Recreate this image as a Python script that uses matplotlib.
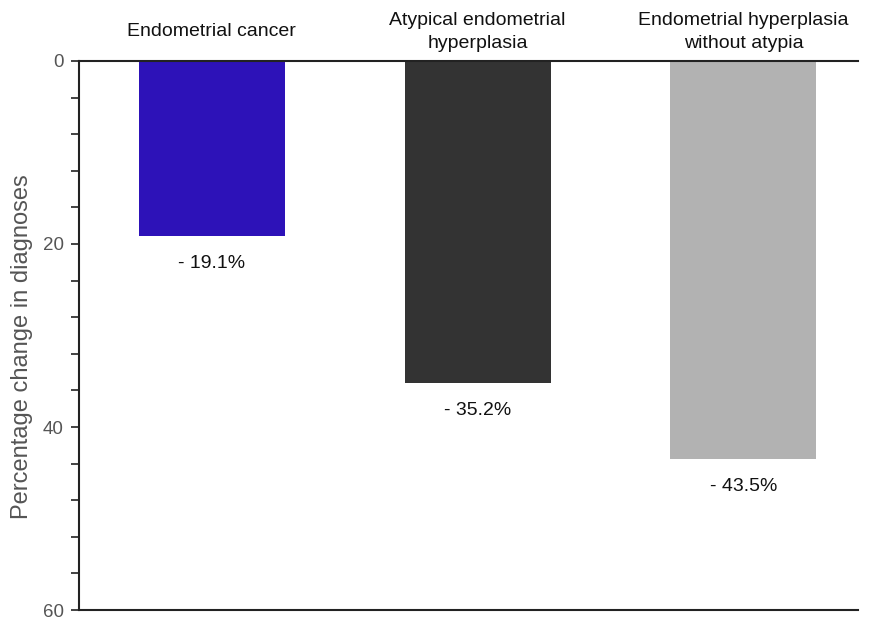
import matplotlib
matplotlib.use("Agg")
import matplotlib.pyplot as plt
import numpy as np

categories = ["Endometrial cancer", "Atypical endometrial\nhyperplasia", "Endometrial hyperplasia\nwithout atypia"]
values = [19.1, 35.2, 43.5]
value_labels = ["- 19.1%", "- 35.2%", "- 43.5%"]
colors = ["#2D12B8", "#333333", "#B2B2B2"]
yticks_major = [0, 20, 40, 60]

plt.rcParams['font.family'] = ['Liberation Sans', 'DejaVu Sans']

fig = plt.figure(figsize=(8.71, 6.19), dpi=100)
ax = fig.add_axes([0.0907, 0.0145, 0.894, 0.8870])

x = np.arange(len(categories))
ax.bar(x, values, width=0.55, color=colors, zorder=2)
ax.set_ylim(60, 0)
ax.set_xlim(-0.5, 2.43)

for xi, v, lab in zip(x, values, value_labels):
    ax.text(xi, v + 2.1, lab, ha='center', va='top', fontsize=14, color='#111111')

ax.set_yticks(yticks_major)
ax.set_yticks(np.arange(0, 61, 4), minor=True)
ax.tick_params(axis='y', which='both', direction='out', length=6, width=1.2, color='#222222',
               labelsize=13.5, labelcolor='#555555', pad=5)
ax.xaxis.set_ticks_position('top')
ax.set_xticks(x)
ax.set_xticklabels(categories, fontsize=14, color='#111111', linespacing=1.45)
for t in ax.get_xticklabels():
    t.set_verticalalignment('center')
ax.tick_params(axis='x', which='both', length=0, pad=21)

ax.spines['right'].set_visible(False)
for s in ['top', 'bottom', 'left']:
    ax.spines[s].set_linewidth(1.5)
    ax.spines[s].set_color('#222222')

ax.set_ylabel("Percentage change in diagnoses", fontsize=17, color='#555555')
ax.yaxis.set_label_coords(-0.059, 0.48)

fig.savefig("out.png", dpi=100)
